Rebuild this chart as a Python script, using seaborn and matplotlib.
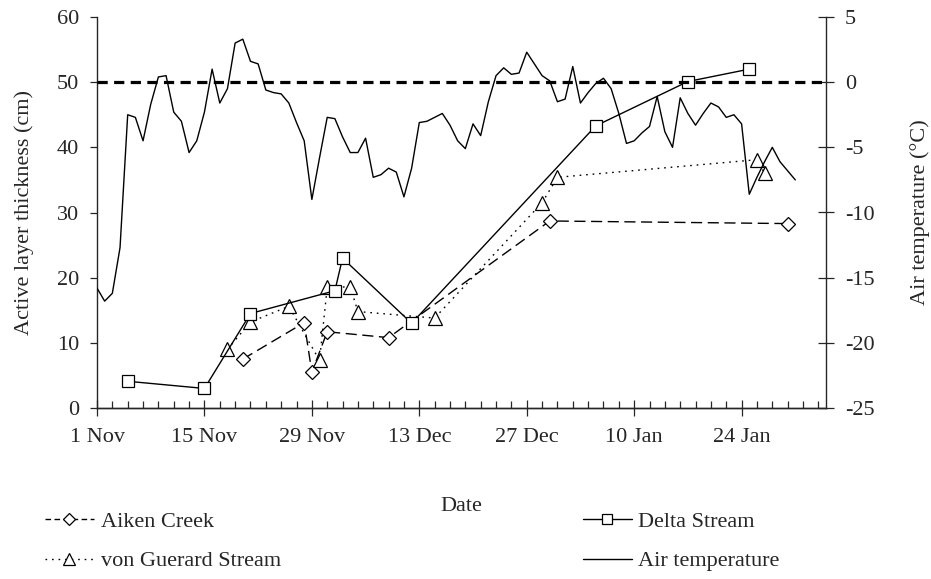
import matplotlib
matplotlib.use("Agg")
import matplotlib.pyplot as plt
from matplotlib.ticker import FixedLocator, MultipleLocator
import seaborn as sns

# ---------------- data (days since 1 Nov) ----------------
tick_days = [0, 14, 28, 42, 56, 70, 84]
tick_labels = ["1 Nov", "15 Nov", "29 Nov", "13 Dec", "27 Dec", "10 Jan", "24 Jan"]

aiken_days = [19, 27, 28, 30, 38, 59, 90]
aiken_depth = [7.5, 13.1, 5.5, 11.7, 10.8, 28.7, 28.3]

delta_days = [4, 14, 20, 31, 32, 41, 65, 77, 85]
delta_depth = [4.1, 3.0, 14.5, 18.0, 23.0, 13.0, 43.3, 50.1, 52.0]

vg_days = [17, 20, 25, 29, 30, 33, 34, 44, 58, 60, 86, 87]
vg_depth = [9.0, 13.2, 15.6, 7.3, 18.5, 18.6, 14.8, 13.8, 31.5, 35.4, 38.1, 36.0]

temp_days = list(range(92))
temp_values = [
    -15.8, -16.8, -16.2, -12.7, -2.5, -2.7, -4.5, -1.7, 0.4, 0.5,
    -2.3, -3.0, -5.4, -4.5, -2.3, 1.0, -1.6, -0.5, 3.0, 3.3,
    1.6, 1.4, -0.6, -0.8, -0.9, -1.6, -3.1, -4.5, -9.0, -5.8,
    -2.7, -2.8, -4.2, -5.4, -5.4, -4.3, -7.3, -7.1, -6.6, -6.9,
    -8.8, -6.6, -3.1, -3.0, -2.7, -2.4, -3.3, -4.5, -5.1, -3.2,
    -4.1, -1.5, 0.5, 1.1, 0.6, 0.7, 2.3, 1.4, 0.5, 0.1,
    -1.5, -1.3, 1.2, -1.6, -0.8, -0.1, 0.3, -0.5, -2.4, -4.7,
    -4.5, -3.9, -3.4, -1.1, -3.8, -5.0, -1.2, -2.4, -3.3, -2.4,
    -1.6, -1.9, -2.7, -2.5, -3.2, -8.6, -7.3, -6.1, -5.0, -6.1,
    -6.8, -7.5,
]

# ---------------- style ----------------
sns.set_style("ticks")
plt.rcParams["font.family"] = ["Liberation Serif", "DejaVu Serif"]
plt.rcParams["font.size"] = 16
plt.rcParams["axes.linewidth"] = 1.0

fig = plt.figure(figsize=(9.31, 5.79), dpi=100)
ax = fig.add_axes([97 / 931, 1 - 408 / 579, (826 - 97) / 931, (408 - 17) / 579])
ax2 = ax.twinx()

mk = dict(color="black", linewidth=1.0, markerfacecolor="white",
          markeredgecolor="black", markeredgewidth=0.9, estimator=None)

sns.lineplot(x=aiken_days, y=aiken_depth, ax=ax, marker="D", markersize=7,
             linestyle=(0, (8, 4)), label="Aiken Creek", **mk)
sns.lineplot(x=vg_days, y=vg_depth, ax=ax, marker="^", markersize=10,
             linestyle=(0, (1.2, 3.5)), label="von Guerard Stream", **mk)
sns.lineplot(x=delta_days, y=delta_depth, ax=ax, marker="s", markersize=8.5,
             linestyle="-", label="Delta Stream", **mk)

sns.lineplot(x=temp_days, y=temp_values, ax=ax2, color="black", linewidth=1.0,
             estimator=None, label="Air temperature")
ax2.axhline(0, color="black", linewidth=2.3, linestyle=(0, (3.2, 2.0)))

# ---------------- axes ----------------
ax.set_xlim(0, 95)
ax.set_ylim(0, 60)
ax2.set_ylim(-25, 5)
ax.set_yticks([0, 10, 20, 30, 40, 50, 60])
ax2.set_yticks([-25, -20, -15, -10, -5, 0, 5])
ax2.set_yticklabels(["-25", "-20", "-15", "-10", "-5", "0", "5"])

ax.xaxis.set_major_locator(FixedLocator(tick_days))
ax.set_xticklabels(tick_labels)
ax.xaxis.set_minor_locator(MultipleLocator(2))

ax.tick_params(axis="x", which="major", direction="inout", length=11, width=0.9, pad=9, labelsize=16)
ax.tick_params(axis="x", which="minor", direction="in", length=5, width=0.9)
ax.tick_params(axis="y", direction="out", length=5, width=0.9, pad=8, labelsize=16)
ax2.tick_params(axis="y", direction="inout", length=11, width=0.9, pad=8, labelsize=16)

for a in (ax, ax2):
    a.spines["top"].set_visible(False)
    for s in a.spines.values():
        s.set_linewidth(1.0)
ax2.spines["left"].set_visible(False)
ax.spines["right"].set_visible(False)

ax.set_xlabel("Date", fontsize=16, labelpad=36)
ax.set_ylabel("Active layer thickness (cm)", fontsize=16, labelpad=16)
ax2.set_ylabel("Air temperature (°C)", fontsize=16, labelpad=26)

# ---------------- legend ----------------
h1, l1 = ax.get_legend_handles_labels()
h2, l2 = ax2.get_legend_handles_labels()
if ax.get_legend():
    ax.get_legend().remove()
if ax2.get_legend():
    ax2.get_legend().remove()
hd = dict(zip(l1 + l2, h1 + h2))
order = ["Aiken Creek", "von Guerard Stream", "Delta Stream", "Air temperature"]
leg = fig.legend([hd[k] for k in order], order, loc="upper left",
                 bbox_to_anchor=(45 / 931, 1 - 511 / 579), ncol=2, frameon=False,
                 fontsize=16, handlelength=2.2, handletextpad=0.3,
                 columnspacing=13.6, labelspacing=0.87, borderpad=0, borderaxespad=0)
leg_lines = leg.get_lines()
leg_lines[0].set_linestyle((0, (4, 2.5)))
leg_lines[0].set_markersize(6)
leg_lines[1].set_markersize(8)
leg_lines[2].set_markersize(7)

fig.savefig("out.png", dpi=100)
